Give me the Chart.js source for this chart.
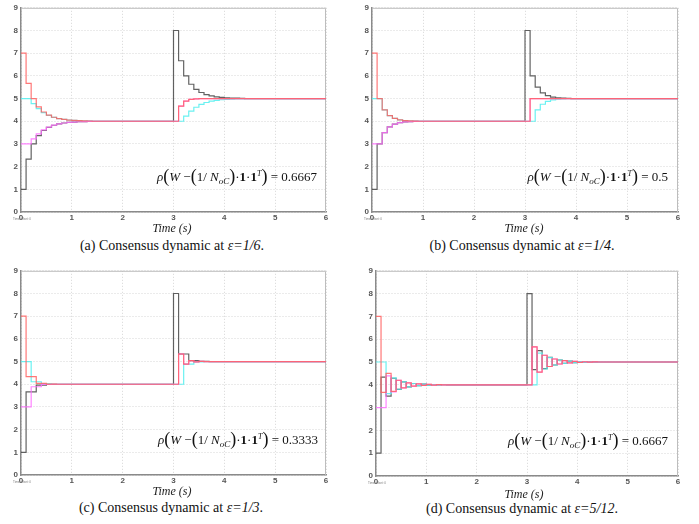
<!DOCTYPE html>
<html>
<head>
<meta charset="utf-8">
<script src="https://cdn.jsdelivr.net/npm/chart.js@4.4.1/dist/chart.umd.min.js"></script>
<style>
  html, body { margin: 0; padding: 0; background: #fff; }
  body { position: relative; width: 699px; height: 524px; overflow: hidden; }
  canvas { position: absolute; }
  .cap, .xt, .rho { font-family: "Liberation Serif", "Times New Roman", "DejaVu Serif", serif; }
  .cap { position: absolute; width: 260px; text-align: center; font-size: 14px; line-height: 15px; color: #111; white-space: nowrap; }
  .xt { position: absolute; width: 80px; text-align: center; font-size: 12px; line-height: 14px; font-style: italic; color: #222; }
  .rho { position: absolute; font-size: 13px; line-height: 18px; color: #111; white-space: nowrap; text-align: right; }
  .rho .bp { font-size: 18px; vertical-align: -1px; }
  .rho sub { font-size: 9px; vertical-align: -3px; }
  .rho sup { font-size: 8px; vertical-align: 5px; }
  .off { position: absolute; font-family: "Liberation Sans", sans-serif; font-size: 3px; color: #777; }
</style>
</head>
<body>
<canvas id="cA"></canvas>
<canvas id="cB"></canvas>
<canvas id="cC"></canvas>
<canvas id="cD"></canvas>
<script>
// sampling of the discrete consensus (s)
const sampleTime = 0.1
const eventTime = 3
const endTime = 6
const xTicks = [0, 1, 2, 3, 4, 5, 6]
const yTicks = [0, 1, 2, 3, 4, 5, 6, 7, 8, 9]

const panelLetters = ['a', 'b', 'c', 'd']
const epsLabels = ['1/6', '1/4', '1/3', '5/12']
const rhoValues = ['0.6667', '0.5', '0.3333', '0.6667']

// (a) eps = 1/6 : before and after the step at t = 3 s
const redA1 = [7, 5.667, 5.000, 4.630, 4.407, 4.267, 4.177, 4.118, 4.078, 4.052, 4.035, 4.023, 4.015, 4.010, 4]
const magentaA1 = [3, 3.000, 3.222, 3.444, 3.617, 3.741, 3.826, 3.883, 3.922, 3.948, 3.965, 3.977, 3.985, 3.990, 4]
const cyanA1 = [5, 5.000, 4.778, 4.556, 4.383, 4.259, 4.174, 4.117, 4.078, 4.052, 4.035, 4.023, 4.015, 4.010, 4]
const blackA1 = [1, 2.333, 3.000, 3.370, 3.593, 3.733, 3.823, 3.882, 3.922, 3.948, 3.965, 3.977, 3.985, 3.990, 4]
const redA2 = [4, 4.667, 4.889, 4.963, 4.988, 4.996, 5]
const magentaA2 = [4, 4.667, 4.889, 4.963, 4.988, 4.996, 5]
const cyanA2 = [4, 4.000, 4.222, 4.444, 4.617, 4.741, 4.826, 4.883, 4.922, 4.948, 4.965, 4.977, 4.985, 4.990, 5]
const blackA2 = [8, 6.667, 6.000, 5.630, 5.407, 5.267, 5.177, 5.118, 5.078, 5.052, 5.035, 5.023, 5.015, 5.010, 5]

// (b) eps = 1/4
const redB1 = [7, 5, 4.5, 4.25, 4.125, 4.063, 4.031, 4.016, 4.008, 4]
const magentaB1 = [3, 3, 3.5, 3.75, 3.875, 3.938, 3.969, 3.984, 3.992, 4]
const cyanB1 = [5, 5, 4.5, 4.25, 4.125, 4.063, 4.031, 4.016, 4.008, 4]
const blackB1 = [1, 3, 3.5, 3.75, 3.875, 3.938, 3.969, 3.984, 3.992, 4]
const redB2 = [4, 5]
const magentaB2 = [4, 5]
const cyanB2 = [4, 4, 4.5, 4.75, 4.875, 4.938, 4.969, 4.984, 4.992, 5]
const blackB2 = [8, 6, 5.5, 5.25, 5.125, 5.063, 5.031, 5.016, 5.008, 5]

// (c) eps = 1/3
const redC1 = [7, 4.333, 4.333, 4.037, 4.037, 4.004, 4.004, 4]
const magentaC1 = [3, 3, 3.889, 3.889, 3.988, 3.988, 4]
const cyanC1 = [5, 5, 4.111, 4.111, 4.012, 4.012, 4]
const blackC1 = [1, 3.667, 3.667, 3.963, 3.963, 3.996, 3.996, 4]
const redC2 = [4, 5.333, 4.889, 5.037, 4.988, 5.004, 5]
const magentaC2 = [4, 5.333, 4.889, 5.037, 4.988, 5.004, 5]
const cyanC2 = [4, 4, 4.889, 4.889, 4.988, 4.988, 5]
const blackC2 = [8, 5.333, 5.333, 5.037, 5.037, 5.004, 5.004, 5]

// (d) eps = 5/12
const redD1 = [7, 3.667, 4.500, 3.713, 4.199, 3.869, 4.088, 3.942, 4.039, 3.974, 4.017, 3.988, 4.008, 3.995, 4]
const magentaD1 = [3, 3.000, 4.389, 3.694, 4.196, 3.868, 4.088, 3.942, 4.039, 3.974, 4.017, 3.988, 4.008, 3.995, 4]
const cyanD1 = [5, 5.000, 3.611, 4.306, 3.804, 4.132, 3.912, 4.058, 3.961, 4.026, 3.983, 4.012, 3.992, 4.005, 4]
const blackD1 = [1, 4.333, 3.500, 4.287, 3.801, 4.131, 3.912, 4.058, 3.961, 4.026, 3.983, 4.012, 3.992, 4.005, 4]
const redD2 = [4, 5.667, 4.556, 5.296, 4.802, 5.132, 4.912, 5.059, 4.961, 5.026, 4.983, 5.012, 4.992, 5.005, 5]
const magentaD2 = [4, 5.667, 4.556, 5.296, 4.802, 5.132, 4.912, 5.059, 4.961, 5.026, 4.983, 5.012, 4.992, 5.005, 5]
const cyanD2 = [4, 4.000, 5.389, 4.694, 5.196, 4.868, 5.088, 4.942, 5.039, 4.974, 5.017, 4.988, 5.008, 4.995, 5]
const blackD2 = [8, 4.667, 5.500, 4.713, 5.199, 4.869, 5.088, 4.942, 5.039, 4.974, 5.017, 4.988, 5.008, 4.995, 5]

const panelData = [
  [[redA1, redA2], [magentaA1, magentaA2], [cyanA1, cyanA2], [blackA1, blackA2]],
  [[redB1, redB2], [magentaB1, magentaB2], [cyanB1, cyanB2], [blackB1, blackB2]],
  [[redC1, redC2], [magentaC1, magentaC2], [cyanC1, cyanC2], [blackC1, blackC2]],
  [[redD1, redD2], [magentaD1, magentaD2], [cyanD1, cyanD2], [blackD1, blackD2]]
]
const lineColors = ['rgba(255,95,95,0.85)', 'rgba(255,110,255,0.85)', 'rgba(90,240,240,0.9)', 'rgba(70,70,70,0.85)']

// plot area of each panel in page pixels: left, top, right, bottom
const plotBoxes = [[21, 7, 326, 212], [372, 7, 678, 212], [21, 270, 326, 475], [376, 270, 678, 476]]
const captionCenters = [[172, 238], [522, 238], [171, 500], [522, 501]]
const timeLabelPos = [[172, 221], [524, 221], [172, 484], [524, 487]]
const rhoPos = [[317, 165], [668, 165], [318, 428], [668, 429]]

const AXIS_W = 21, AXIS_H = 12, PAD_T = 7, PAD_R = 4

function toPoints(p1, p2) {
  const pts = p1.map((v, k) => ({x: Math.round(k * sampleTime * 10) / 10, y: v}))
  p2.forEach((v, k) => pts.push({x: Math.round((eventTime + k * sampleTime) * 10) / 10, y: v}))
  pts.push({x: endTime, y: p2[p2.length - 1]})
  return pts
}

const framePlugin = {
  id: 'frame',
  beforeDatasetsDraw(chart) {
    const {ctx, chartArea: a} = chart
    ctx.save()
    ctx.strokeStyle = '#bdbdbd'
    ctx.lineWidth = 1
    ctx.beginPath()
    ctx.moveTo(a.left, a.top + 0.5)
    ctx.lineTo(a.right - 0.5, a.top + 0.5)
    ctx.lineTo(a.right - 0.5, a.bottom)
    ctx.stroke()
    ctx.restore()
  }
}

const tickFont = {family: 'Liberation Sans, Arial, sans-serif', size: 8, weight: 'bold'}

function makePanel(i) {
  const [l, t, r, b] = plotBoxes[i]
  const canvas = document.getElementById('c' + 'ABCD'[i])
  const w = r - l + AXIS_W + PAD_R
  const h = b - t + PAD_T + AXIS_H
  canvas.width = w
  canvas.height = h
  canvas.style.left = (l - AXIS_W) + 'px'
  canvas.style.top = (t - PAD_T) + 'px'
  canvas.style.width = w + 'px'
  canvas.style.height = h + 'px'

  const datasets = panelData[i].map((pair, j) => ({
    data: toPoints(pair[0], pair[1]),
    borderColor: lineColors[j],
    borderWidth: 1.2,
    stepped: true,
    pointRadius: 0,
    fill: false
  }))

  new Chart(canvas, {
    type: 'line',
    data: {datasets: datasets},
    plugins: [framePlugin],
    options: {
      responsive: false,
      animation: false,
      events: [],
      layout: {padding: {top: PAD_T, right: PAD_R, left: 0, bottom: 0}},
      plugins: {legend: {display: false}, tooltip: {enabled: false}},
      scales: {
        x: {
          type: 'linear', min: xTicks[0], max: xTicks[xTicks.length - 1],
          afterBuildTicks: s => { s.ticks = xTicks.map(v => ({value: v})) },
          afterFit: s => { s.height = AXIS_H },
          ticks: {font: tickFont, color: '#555', padding: 1, maxRotation: 0, autoSkip: false},
          grid: {color: '#d6d6d6', drawTicks: false},
          border: {color: '#8a8a8a', width: 1.5, dash: [1, 2]}
        },
        y: {
          type: 'linear', min: yTicks[0], max: yTicks[yTicks.length - 1],
          afterBuildTicks: s => { s.ticks = yTicks.map(v => ({value: v})) },
          afterFit: s => { s.width = AXIS_W },
          ticks: {font: tickFont, color: '#555', padding: 3, autoSkip: false},
          grid: {color: '#d6d6d6', drawTicks: false},
          border: {color: '#8a8a8a', width: 1.5, dash: [1, 2]}
        }
      }
    }
  })

  // texts around the plot
  const cap = document.createElement('div')
  cap.className = 'cap'
  cap.style.left = (captionCenters[i][0] - 130) + 'px'
  cap.style.top = captionCenters[i][1] + 'px'
  cap.innerHTML = '(' + panelLetters[i] + ') Consensus dynamic at <i>&#949;=' + epsLabels[i] + '</i>.'
  document.body.appendChild(cap)

  const xt = document.createElement('div')
  xt.className = 'xt'
  xt.style.left = (timeLabelPos[i][0] - 40) + 'px'
  xt.style.top = timeLabelPos[i][1] + 'px'
  xt.textContent = 'Time (s)'
  document.body.appendChild(xt)

  const rho = document.createElement('div')
  rho.className = 'rho'
  rho.style.right = (699 - rhoPos[i][0]) + 'px'
  rho.style.top = rhoPos[i][1] + 'px'
  rho.innerHTML = '<i>&#961;</i><span class="bp">(</span><i>W</i> &#8722;<span class="bp">(</span>1/ <i>N</i><sub><i>oC</i></sub><span class="bp">)</span>&#183;<b>1</b>&#183;<b>1</b><sup><i>T</i></sup><span class="bp">)</span> = ' + rhoValues[i]
  document.body.appendChild(rho)

  const off = document.createElement('div')
  off.className = 'off'
  off.style.left = (l - 8) + 'px'
  off.style.top = (b + 5) + 'px'
  off.textContent = 'Time offset: 0'
  document.body.appendChild(off)
}

for (let i = 0; i < 4; i++) makePanel(i)
</script>
</body>
</html>
